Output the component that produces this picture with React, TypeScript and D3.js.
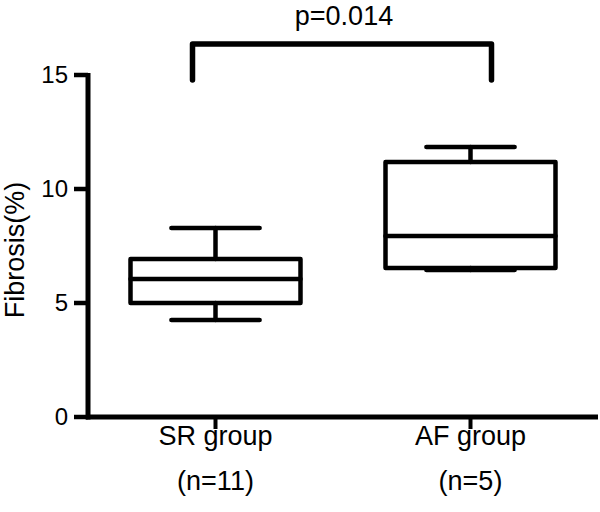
import React from "react";
import * as d3 from "d3";

const groups = ["SR group", "AF group"];
const groupN = ["(n=11)", "(n=5)"];
const mins = [4.25, 6.45];
const q1s = [5.0, 6.54];
const medians = [6.05, 7.94];
const q3s = [6.93, 11.18];
const maxs = [8.29, 11.84];
const yTicks = [0, 5, 10, 15];
const pLabel = "p=0.014";
const yLabel = "Fibrosis(%)";

const W = 600;
const H = 512;
const FONT = "'Liberation Sans', Arial, Helvetica, sans-serif";

export default function App() {
  const y = d3.scaleLinear().domain([0, 15]).range([417, 75]);
  const x = d3.scaleBand().domain(groups).range([88, 598]).padding(0);
  const bw = x.bandwidth();
  const boxHalf = bw / 3;
  const capHalf = bw * 0.173;
  const sw = 4.5;
  const cx = (g: string) => (x(g) as number) + bw / 2;

  const bracketY = 44;
  const bracketBottom = 80;
  const bx1 = cx(groups[0]) - 23;
  const bx2 = cx(groups[1]) + 21;

  return (
    <svg width={W} height={H} style={{ position: "absolute", left: 0, top: 0, background: "#fff" }}>
      <g fontFamily={FONT} fill="#000">
        {/* Y axis */}
        <line x1={88} x2={88} y1={y(15) - 2} y2={y(0) + 2.5} stroke="#000" strokeWidth={5} />
        {yTicks.map((t) => (
          <g key={t}>
            <line x1={74} x2={88} y1={y(t)} y2={y(t)} stroke="#000" strokeWidth={4.5} />
            <text x={68} y={y(t)} dy="0.35em" textAnchor="end" fontSize={24}>
              {t}
            </text>
          </g>
        ))}
        <text
          transform={`translate(24, ${y(7.5) + 4}) rotate(-90)`}
          textAnchor="middle"
          fontSize={27}
        >
          {yLabel}
        </text>

        {/* X axis */}
        <line x1={86} x2={598} y1={y(0)} y2={y(0)} stroke="#000" strokeWidth={5} />
        {groups.map((g, i) => (
          <g key={g}>
            <line x1={cx(g)} x2={cx(g)} y1={y(0)} y2={y(0) + 12} stroke="#000" strokeWidth={4} />
            <text x={cx(g)} y={445} textAnchor="middle" fontSize={27}>
              {g}
            </text>
            <text x={cx(g)} y={490} textAnchor="middle" fontSize={27}>
              {groupN[i]}
            </text>
          </g>
        ))}

        {/* Boxes */}
        {groups.map((g, i) => {
          const c = cx(g);
          return (
            <g key={"b" + g} stroke="#000" strokeWidth={sw} fill="none" strokeLinecap="round">
              <line x1={c} x2={c} y1={y(maxs[i])} y2={y(q3s[i])} />
              <line x1={c} x2={c} y1={y(q1s[i])} y2={y(mins[i])} />
              <line x1={c - capHalf} x2={c + capHalf} y1={y(maxs[i])} y2={y(maxs[i])} />
              <line x1={c - capHalf} x2={c + capHalf} y1={y(mins[i])} y2={y(mins[i])} />
              <rect
                x={c - boxHalf}
                y={y(q3s[i])}
                width={boxHalf * 2}
                height={y(q1s[i]) - y(q3s[i])}
                strokeLinejoin="round"
              />
              <line x1={c - boxHalf} x2={c + boxHalf} y1={y(medians[i])} y2={y(medians[i])} />
            </g>
          );
        })}

        {/* Significance bracket */}
        <path
          d={`M${bx1},${bracketBottom}V${bracketY}H${bx2}V${bracketBottom}`}
          fill="none"
          stroke="#000"
          strokeWidth={5.5}
          strokeLinecap="round"
          strokeLinejoin="round"
        />
        <text x={344} y={25} textAnchor="middle" fontSize={27}>
          {pLabel}
        </text>
      </g>
    </svg>
  );
}
